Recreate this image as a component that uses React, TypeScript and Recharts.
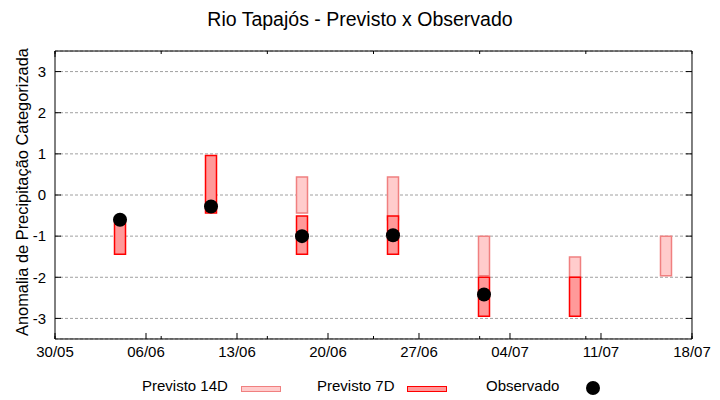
import {
  Bar,
  CartesianGrid,
  ComposedChart,
  Legend,
  Scatter,
  XAxis,
  YAxis,
} from "recharts";

// day 0 = 30/05
const tickDays = [0, 7, 14, 21, 28, 35, 42, 49];
const tickLabels = ["30/05", "06/06", "13/06", "20/06", "27/06", "04/07", "11/07", "18/07"];
const yTicks = [-3, -2, -1, 0, 1, 2, 3];

const fcDays = [5, 12, 19, 26, 33, 40, 47];
const fc14Low = [null, null, -0.44, -0.6, -1.96, -2.0, -1.96];
const fc14High = [null, null, 0.44, 0.44, -1.0, -1.51, -1.0];
const fc7Low = [-1.44, -0.44, -1.44, -1.44, -2.95, -2.95, null];
const fc7High = [-0.6, 0.96, -0.51, -0.51, -2.0, -2.0, null];
const observed = [-0.6, -0.28, -1.0, -0.98, -2.42, null, null];

const legendNames = ["Previsto 14D", "Previsto 7D", "Observado"];

const FONT = "'Liberation Sans', Arial, sans-serif";
const C14 = { fill: "#ffcccc", stroke: "#f08080" };
const C7 = { fill: "#ff9999", stroke: "#ff0000" };
const THIN = 0.01; // axes need a size > 0 to render

const rows = fcDays.map((day, i) => ({
  day,
  fc14: fc14Low[i] == null ? null : [fc14Low[i], fc14High[i]],
  fc7: fc7Low[i] == null ? null : [fc7Low[i], fc7High[i]],
}));
const obsPoints = fcDays
  .map((day, i) => ({ day, obs: observed[i] }))
  .filter((p) => p.obs != null);

const minorDays = Array.from({ length: 50 }, (_, i) => i);
const tickStyle = { fill: "#000", fontSize: 15, fontFamily: FONT };
const blank = () => "";

function LegendBox() {
  const item = { position: "absolute" as const, top: 0, fontSize: 15, lineHeight: "18px", color: "#000" };
  return (
    <div style={{ position: "relative", width: 720, height: 30, fontFamily: FONT }}>
      <span style={{ ...item, left: 142 }}>{legendNames[0]}</span>
      <span style={{ position: "absolute", left: 241, top: 9, width: 38, height: 4, background: C14.fill, border: `1px solid ${C14.stroke}` }} />
      <span style={{ ...item, left: 317 }}>{legendNames[1]}</span>
      <span style={{ position: "absolute", left: 407, top: 9, width: 38, height: 4, background: C7.fill, border: `1px solid ${C7.stroke}` }} />
      <span style={{ ...item, left: 486 }}>{legendNames[2]}</span>
      <span style={{ position: "absolute", left: 586, top: 4, width: 14, height: 14, borderRadius: 7, background: "#000" }} />
    </div>
  );
}

export default function App() {
  return (
    <div style={{ position: "absolute", left: 0, top: 0, width: 720, height: 400, background: "#fff", fontFamily: FONT }}>
      <div style={{ position: "absolute", top: 9, left: 0, width: 720, textAlign: "center", fontSize: 19.5, lineHeight: "20px" }}>
        Rio Tapajós - Previsto x Observado
      </div>
      <ComposedChart
        width={720}
        height={400}
        data={rows}
        margin={{ top: 51, right: 28, bottom: 61, left: 55 }}
        barGap={-11}
      >
        <CartesianGrid vertical={false} stroke="#a0a0a0" strokeDasharray="3 2" />
        <XAxis
          dataKey="day"
          type="number"
          domain={[0, 49]}
          ticks={tickDays}
          tickFormatter={(v) => tickLabels[tickDays.indexOf(v)]}
          height={THIN}
          tickSize={-6}
          tickMargin={13}
          tick={tickStyle}
          stroke="#000"
          allowDataOverflow
        />
        <XAxis xAxisId="minor" type="number" domain={[0, 49]} ticks={minorDays} tickFormatter={blank} height={THIN} tickSize={-3} axisLine={false} stroke="#000" allowDataOverflow />
        <XAxis xAxisId="top" orientation="top" type="number" domain={[0, 49]} ticks={tickDays} tickFormatter={blank} height={THIN} tickSize={-6} stroke="#000" allowDataOverflow />
        <XAxis xAxisId="topMinor" orientation="top" type="number" domain={[0, 49]} ticks={minorDays} tickFormatter={blank} height={THIN} tickSize={-3} axisLine={false} stroke="#000" allowDataOverflow />
        <YAxis
          type="number"
          domain={[-3.5, 3.5]}
          ticks={yTicks}
          width={THIN}
          tickSize={-6}
          tickMargin={15}
          tick={tickStyle}
          stroke="#000"
          allowDataOverflow
          label={{
            content: (props: any) => {
              const vb = props.viewBox || { x: 55, y: 51, height: 288 };
              const x = vb.x - 27;
              const y = vb.y + vb.height / 2 - 3;
              return (
                <text x={x} y={y} transform={`rotate(-90 ${x} ${y})`} textAnchor="middle" fontSize={16.4} fontFamily={FONT} fill="#000">
                  Anomalia de Precipitação Categorizada
                </text>
              );
            },
          }}
        />
        <YAxis yAxisId="right" orientation="right" type="number" domain={[-3.5, 3.5]} ticks={yTicks} tickFormatter={blank} width={THIN} tickSize={-6} stroke="#000" allowDataOverflow />
        <Legend layout="horizontal" verticalAlign="middle" align="center" wrapperStyle={{ left: 0, top: 377, width: 720 }} content={() => <LegendBox />} />
        <Bar dataKey="fc14" name={legendNames[0]} barSize={11} fill={C14.fill} stroke={C14.stroke} strokeWidth={1.5} isAnimationActive={false} />
        <Bar dataKey="fc7" name={legendNames[1]} barSize={11} fill={C7.fill} stroke={C7.stroke} strokeWidth={1.5} isAnimationActive={false} />
        <Scatter
          data={obsPoints}
          dataKey="obs"
          name={legendNames[2]}
          fill="#000"
          isAnimationActive={false}
          shape={(p: any) => <circle cx={p.cx} cy={p.cy} r={7} fill="#000" />}
        />
      </ComposedChart>
    </div>
  );
}
